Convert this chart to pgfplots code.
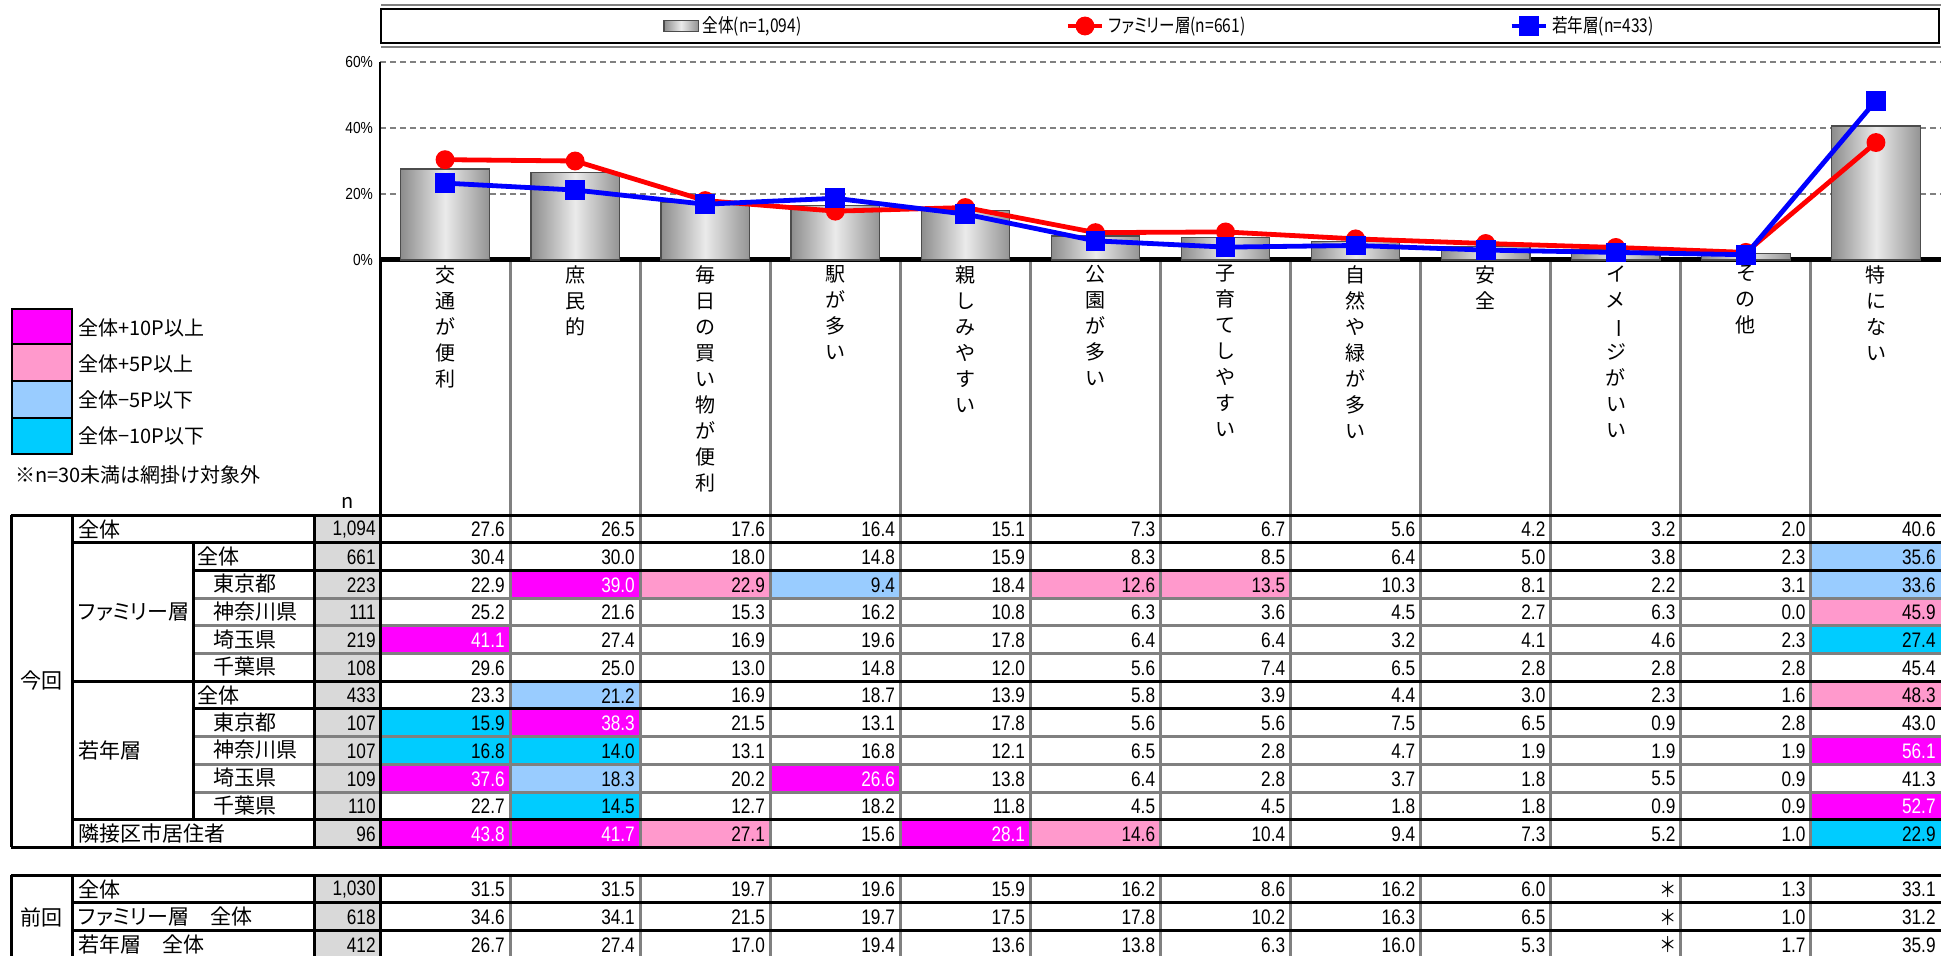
\documentclass[border=0pt]{standalone}
\usepackage{fontspec}
\setmainfont{Noto Sans CJK JP}[RawFeature=+palt]
\newfontfamily\jc{Noto Sans CJK JP}[RawFeature=+palt, FakeStretch=0.82]
\newfontfamily\numf{Liberation Sans}[FakeStretch=0.82]
\newfontfamily\tickf{Liberation Sans}[FakeStretch=0.86]
\usepackage{graphicx}
\usepackage{pgfplots}
\pgfplotsset{compat=1.18}

\definecolor{cn}{HTML}{FFFFFF}\definecolor{tn}{HTML}{000000}
\definecolor{cm}{HTML}{FF00FF}\definecolor{tm}{HTML}{FFFFFF}
\definecolor{cp}{HTML}{FF99CC}\definecolor{tp}{HTML}{000000}
\definecolor{cb}{HTML}{99CCFF}\definecolor{tb}{HTML}{000000}
\definecolor{cc}{HTML}{00CCFF}\definecolor{tc}{HTML}{000000}
\definecolor{ngray}{HTML}{D9D9D9}
\definecolor{lgray}{HTML}{808080}

\newcommand\tf{\fontsize{10.5}{12}\selectfont}
\newcommand\nf{\numf\fontsize{10.5}{12}\selectfont}
\newcommand\nstar{{\jc\tf ＊}}

\pgfplotsset{cylbar/.style={ybar, bar width=0.68, draw=black!70, line width=0.6pt,
  left color=black!45, right color=black!42, middle color=black!8, area legend}}

% one table row: top y, n, cells value/colour code
\newcommand\datarow[3]{%
  \fill[ngray] (314,#1) rectangle (380,#1+27.7);
  \node[anchor=east,inner sep=0pt,font=\nf] at (376,#1+14.5) {#2};
  \foreach \v/\c [count=\j from 0] in {#3}{%
    \fill[fill=c\c] ({380+130.08*\j},#1) rectangle ({380+130.08*(\j+1)},#1+27.7);
    \node[anchor=east,inner sep=0pt,font=\nf,text=t\c] at ({380+130.08*(\j+1)-5},#1+14.5) {\v};
  }}

\begin{document}
\begin{tikzpicture}
\useasboundingbox (0pt,0pt) rectangle (970.5pt,-478pt);

\begin{scope}[x=0.5pt,y=-0.5pt]
% legend box
\draw[lgray, line width=1pt] (381,5) -- (1941,5);
\draw[black, line width=1pt] (381,9) rectangle (1939,43);
\draw[lgray, line width=1pt] (381,47) -- (1941,47);

% left colour legend
\filldraw[fill=cm, draw=black, line width=1.2pt] (12,309) rectangle (72,344);
\filldraw[fill=cp, draw=black, line width=1.2pt] (12,344) rectangle (72,381);
\filldraw[fill=cb, draw=black, line width=1.2pt] (12,381) rectangle (72,418);
\filldraw[fill=cc, draw=black, line width=1.2pt] (12,418) rectangle (72,454);
\node[anchor=west, font=\fontsize{10}{12}\selectfont, inner sep=0pt] at (78,328) {全体+10P以上};
\node[anchor=west, font=\fontsize{10}{12}\selectfont, inner sep=0pt] at (78,364) {全体+5P以上};
\node[anchor=west, font=\fontsize{10}{12}\selectfont, inner sep=0pt] at (78,400) {全体−5P以下};
\node[anchor=west, font=\fontsize{10}{12}\selectfont, inner sep=0pt] at (78,436) {全体−10P以下};
\node[anchor=west, font=\fontsize{10}{12}\selectfont, inner sep=0pt] at (15,475) {※n=30未満は網掛け対象外};
\node[font=\fontsize{10}{12}\selectfont, inner sep=0pt] at (348,503) {n};

% category labels, set vertically
\foreach \t [count=\j from 0] in {
  {交\\通\\が\\便\\利},
  {庶\\民\\的},
  {毎\\日\\の\\買\\い\\物\\が\\便\\利},
  {駅\\が\\多\\い},
  {親\\し\\み\\や\\す\\い},
  {公\\園\\が\\多\\い},
  {子\\育\\て\\し\\や\\す\\い},
  {自\\然\\や\\緑\\が\\多\\い},
  {安\\全},
  {イ\\メ\\\rotatebox[origin=c]{-90}{ー}\\ジ\\が\\い\\い},
  {そ\\の\\他},
  {特\\に\\な\\い}}{
  \node[anchor=north, align=center, inner sep=0pt, font=\fontsize{10}{13}\selectfont]
    at ({380+130.08*(\j+0.5)},265) {\t};
}

% table: this time
\datarow{515}{1,094}{27.6/n,26.5/n,17.6/n,16.4/n,15.1/n,7.3/n,6.7/n,5.6/n,4.2/n,3.2/n,2.0/n,40.6/n}
\datarow{542.7}{661}{30.4/n,30.0/n,18.0/n,14.8/n,15.9/n,8.3/n,8.5/n,6.4/n,5.0/n,3.8/n,2.3/n,35.6/b}
\datarow{570.4}{223}{22.9/n,39.0/m,22.9/p,9.4/b,18.4/n,12.6/p,13.5/p,10.3/n,8.1/n,2.2/n,3.1/n,33.6/b}
\datarow{598.1}{111}{25.2/n,21.6/n,15.3/n,16.2/n,10.8/n,6.3/n,3.6/n,4.5/n,2.7/n,6.3/n,0.0/n,45.9/p}
\datarow{625.8}{219}{41.1/m,27.4/n,16.9/n,19.6/n,17.8/n,6.4/n,6.4/n,3.2/n,4.1/n,4.6/n,2.3/n,27.4/c}
\datarow{653.5}{108}{29.6/n,25.0/n,13.0/n,14.8/n,12.0/n,5.6/n,7.4/n,6.5/n,2.8/n,2.8/n,2.8/n,45.4/n}
\datarow{681.2}{433}{23.3/n,21.2/b,16.9/n,18.7/n,13.9/n,5.8/n,3.9/n,4.4/n,3.0/n,2.3/n,1.6/n,48.3/p}
\datarow{708.9}{107}{15.9/c,38.3/m,21.5/n,13.1/n,17.8/n,5.6/n,5.6/n,7.5/n,6.5/n,0.9/n,2.8/n,43.0/n}
\datarow{736.6}{107}{16.8/c,14.0/c,13.1/n,16.8/n,12.1/n,6.5/n,2.8/n,4.7/n,1.9/n,1.9/n,1.9/n,56.1/m}
\datarow{764.3}{109}{37.6/m,18.3/b,20.2/n,26.6/m,13.8/n,6.4/n,2.8/n,3.7/n,1.8/n,5.5/n,0.9/n,41.3/n}
\datarow{792}{110}{22.7/n,14.5/c,12.7/n,18.2/n,11.8/n,4.5/n,4.5/n,1.8/n,1.8/n,0.9/n,0.9/n,52.7/m}
\datarow{819.7}{96}{43.8/m,41.7/m,27.1/p,15.6/n,28.1/m,14.6/p,10.4/n,9.4/n,7.3/n,5.2/n,1.0/n,22.9/c}
% table: previous time
\datarow{875}{1,030}{31.5/n,31.5/n,19.7/n,19.6/n,15.9/n,16.2/n,8.6/n,16.2/n,6.0/n,\nstar/n,1.3/n,33.1/n}
\datarow{902.7}{618}{34.6/n,34.1/n,21.5/n,19.7/n,17.5/n,17.8/n,10.2/n,16.3/n,6.5/n,\nstar/n,1.0/n,31.2/n}
\datarow{930.4}{412}{26.7/n,27.4/n,17.0/n,19.4/n,13.6/n,13.8/n,6.3/n,16.0/n,5.3/n,\nstar/n,1.7/n,35.9/n}

% row labels
\begin{scope}[every node/.style={anchor=west, inner sep=0pt, font=\tf}]
\node[anchor=center] at (41.5,681) {今回};
\node at (78,529) {全体};
\node at (78,612) {ファミリー層};
\node at (197,556.5) {全体};
\node at (213,584) {東京都};
\node at (213,612) {神奈川県};
\node at (213,639.5) {埼玉県};
\node at (213,667) {千葉県};
\node at (78,750) {若年層};
\node at (197,695) {全体};
\node at (213,722.5) {東京都};
\node at (213,750) {神奈川県};
\node at (213,778) {埼玉県};
\node at (213,806) {千葉県};
\node at (78,833.5) {隣接区市居住者};
\node[anchor=center] at (41.5,917) {前回};
\node at (78,889) {全体};
\node at (78,916.5) {ファミリー層\hspace{1em}全体};
\node at (78,944) {若年層\hspace{1em}全体};
\end{scope}

% grid lines of the table
\begin{scope}[line width=1.5pt]
\foreach \j in {1,...,11}{
  \draw[lgray] ({380+130.08*\j},262) -- ({380+130.08*\j},847.4);
  \draw[lgray] ({380+130.08*\j},875) -- ({380+130.08*\j},960);
}
\foreach \y in {598.1,625.8,653.5,736.6,764.3,792}{
  \draw[lgray] (193,\y) -- (1941,\y);
}
\draw (11,515) -- (1941,515);
\draw (72,542.7) -- (1941,542.7);
\draw (193,570.4) -- (1941,570.4);
\draw (72,681.2) -- (1941,681.2);
\draw (193,708.9) -- (1941,708.9);
\draw (72,819.7) -- (1941,819.7);
\draw (11,847.4) -- (1941,847.4);
\draw (11,875) -- (1941,875);
\draw (72,902.7) -- (1941,902.7);
\draw (72,930.4) -- (1941,930.4);
\foreach \x in {11,72,314}{ \draw (\x,515) -- (\x,847.4); \draw (\x,875) -- (\x,960); }
\draw (193,542.7) -- (193,819.7);
\draw (380,260) -- (380,847.4);
\draw (380,875) -- (380,960);
\end{scope}
\end{scope}

\begin{axis}[
  at={(190pt,-130pt)}, anchor=south west,
  scale only axis, width=780.5pt, height=99pt,
  xmin=-0.5, xmax=11.5, ymin=0, ymax=60,
  axis x line*=bottom, axis y line*=left,
  x axis line style={line width=2.5pt},
  y axis line style={line width=0.6pt},
  xtick=\empty, ytick={0,20,40,60},
  yticklabel={\pgfmathprintnumber{\tick}\%},
  /pgf/number format/assume math mode=true,
  yticklabel style={font=\tickf\fontsize{8}{9}\selectfont},
  major tick length=0pt,
  ymajorgrids, grid style={densely dashed, lgray, line width=0.6pt},
  clip=false,
  legend columns=3,
  legend style={at={(0.5,1)}, anchor=center, yshift=18pt, draw=none, fill=none,
    font=\jc\fontsize{9.5}{11}\selectfont,
    /tikz/every even column/.append style={column sep=130pt}},
]
% overall: one bar per plot so that each bar has its own shading
\addplot[cylbar] coordinates {(0,27.6)};
\addlegendentry{全体(n=1,094)}
\pgfplotsforeachungrouped \xx/\yy in {1/26.5, 2/17.6, 3/16.4, 4/15.1, 5/7.3,
    6/6.7, 7/5.6, 8/4.2, 9/3.2, 10/2.0, 11/40.6}{
  \addplot[cylbar, forget plot] coordinates {(\xx,\yy)};
}
\addplot[red, line width=2.4pt, mark=*, mark size=3.5pt]
  coordinates {(0,30.4) (1,30.0) (2,18.0) (3,14.8) (4,15.9) (5,8.3)
               (6,8.5) (7,6.4) (8,5.0) (9,3.8) (10,2.3) (11,35.6)};
\addlegendentry{ファミリー層(n=661)}
\addplot[blue, line width=2.4pt, mark=square*, mark size=3.75pt]
  coordinates {(0,23.3) (1,21.2) (2,16.9) (3,18.7) (4,13.9) (5,5.8)
               (6,3.9) (7,4.4) (8,3.0) (9,2.3) (10,1.6) (11,48.3)};
\addlegendentry{若年層(n=433)}
\end{axis}
\end{tikzpicture}
\end{document}
